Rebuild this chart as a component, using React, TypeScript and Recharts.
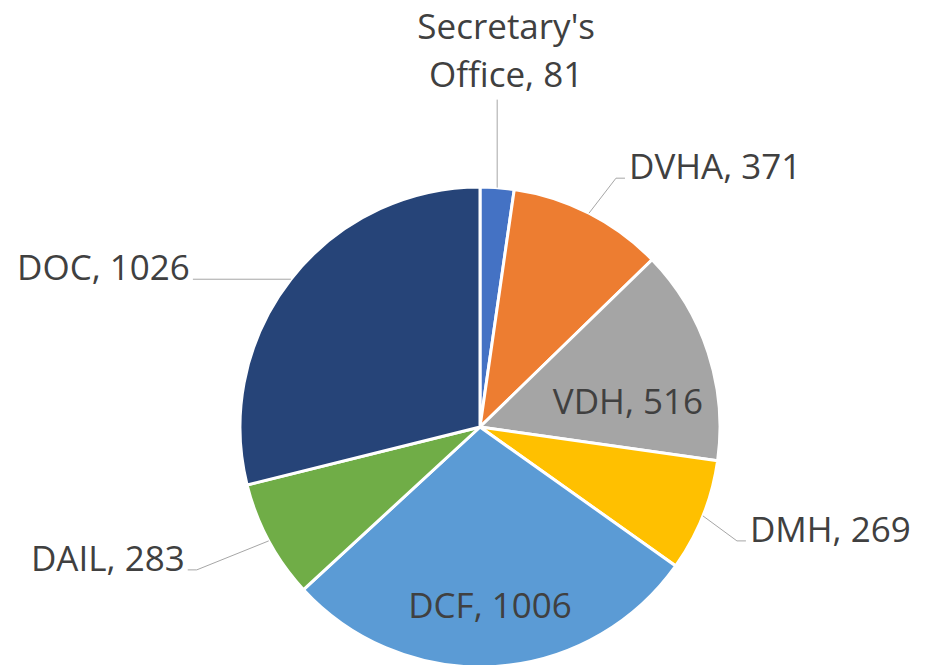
import { PieChart, Pie, Cell } from 'recharts';

const categories = ["Secretary's Office", 'DVHA', 'VDH', 'DMH', 'DCF', 'DAIL', 'DOC'];
const values = [81, 371, 516, 269, 1006, 283, 1026];
const colors = ['#4472C4', '#ED7D31', '#A5A5A5', '#FFC000', '#5B9BD5', '#70AD47', '#264478'];

const chartData = categories.map((name, i) => ({ name, value: values[i] }));

const RADIAN = Math.PI / 180;
const TEXT_COLOR = '#404040';
const LINE_COLOR = '#A6A6A6';
const FONT = '"Open Sans", sans-serif';
const FONT_SIZE = 35;

// label placement per slice: outside with leader (elbow offset + horizontal tail), or inside
type LabelLayout =
  | { kind: 'top'; rise: number; dx: number; lineGap: number }
  | { kind: 'side'; ex: number; ey: number; tail: number }
  | { kind: 'inside'; dx: number; dy: number };

const layouts: LabelLayout[] = [
  { kind: 'top', rise: 88, dx: 9, lineGap: 48 },
  { kind: 'side', ex: 27, ey: -35, tail: 9 },
  { kind: 'inside', dx: 148, dy: -13 },
  { kind: 'side', ex: 34, ey: 25, tail: 9 },
  { kind: 'inside', dx: 10, dy: 191 },
  { kind: 'side', ex: -72, ey: 29, tail: -9 },
  { kind: 'side', ex: -98, ey: 0, tail: 0 },
];

function renderLabel(props: any) {
  const { cx, cy, midAngle, outerRadius, index, name, value } = props;
  const layout = layouts[index];
  const px = cx + outerRadius * Math.cos(-midAngle * RADIAN);
  const py = cy + outerRadius * Math.sin(-midAngle * RADIAN);
  const textStyle = { fontFamily: FONT, fontSize: FONT_SIZE, fill: TEXT_COLOR };

  if (layout.kind === 'inside') {
    return (
      <text x={cx + layout.dx} y={cy + layout.dy} textAnchor="middle" {...textStyle}>
        {`${name}, ${value}`}
      </text>
    );
  }

  if (layout.kind === 'top') {
    const ty = py - layout.rise;
    const words = String(name).split(' ');
    return (
      <g>
        <line x1={px} y1={py} x2={px} y2={ty} stroke={LINE_COLOR} strokeWidth={1} />
        <text x={px + layout.dx} y={ty - 13 - layout.lineGap} textAnchor="middle" {...textStyle}>
          {words[0]}
        </text>
        <text x={px + layout.dx} y={ty - 13} textAnchor="middle" {...textStyle}>
          {`${words.slice(1).join(' ')}, ${value}`}
        </text>
      </g>
    );
  }

  const ex = px + layout.ex;
  const ey = py + layout.ey;
  const tx = ex + layout.tail;
  const right = layout.ex + layout.tail >= 0;
  return (
    <g>
      <polyline points={`${px},${py} ${ex},${ey} ${tx},${ey}`} fill="none" stroke={LINE_COLOR} strokeWidth={1} />
      <text x={right ? tx + 4 : tx - 3} y={ey + 1} textAnchor={right ? 'start' : 'end'} {...textStyle}>
        {`${name}, ${value}`}
      </text>
    </g>
  );
}

export default function App() {
  return (
    <div style={{ position: 'absolute', left: 0, top: 0, background: '#fff' }}>
      <PieChart width={933} height={665} margin={{ top: 0, right: 0, bottom: 0, left: 0 }}>
        <Pie
          data={chartData}
          dataKey="value"
          nameKey="name"
          cx={480}
          cy={427}
          outerRadius={240}
          startAngle={90}
          endAngle={-270}
          stroke="#fff"
          strokeWidth={3}
          label={renderLabel}
          labelLine={false}
          isAnimationActive={false}
        >
          {chartData.map((d, i) => (
            <Cell key={d.name} fill={colors[i]} />
          ))}
        </Pie>
      </PieChart>
    </div>
  );
}
